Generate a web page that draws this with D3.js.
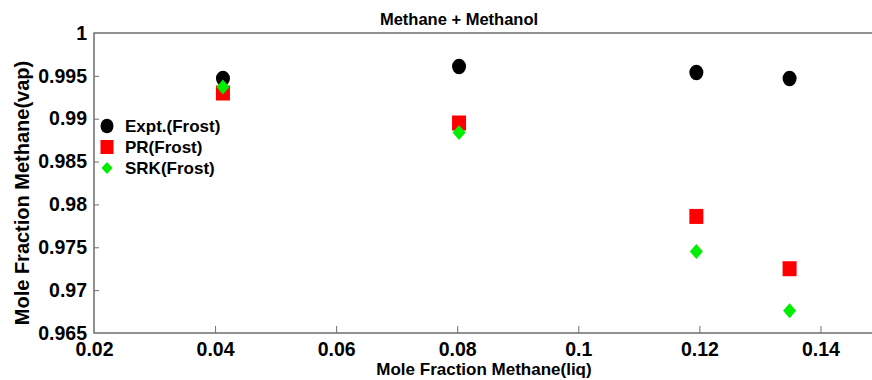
<!DOCTYPE html>
<html>
<head>
<meta charset="utf-8">
<script src="https://cdn.jsdelivr.net/npm/d3@7"></script>
<style>
  body { margin: 0; background: #fff; }
  text { font-family: "Liberation Sans", Arial, sans-serif; font-weight: bold; fill: #000; }
</style>
</head>
<body>
<div id="chart"></div>
<script>
// data
var xLiq = [0.0413, 0.0803, 0.1195, 0.1349];
var expt = [0.9947, 0.9961, 0.9954, 0.9947];
var pr = [0.9930, 0.9895, 0.9786, 0.9725];
var srk = [0.9937, 0.9884, 0.9745, 0.9676];
var xTicks = [0.02, 0.04, 0.06, 0.08, 0.1, 0.12, 0.14];
var yTicks = [0.965, 0.97, 0.975, 0.98, 0.985, 0.99, 0.995, 1];
var seriesNames = ["Expt.(Frost)", "PR(Frost)", "SRK(Frost)"];

var W = 872, H = 380;
var margin = { top: 33, left: 94, bottom: 47 };
var plotRight = 881; // box runs past the image edge

var svg = d3.select("#chart").append("svg")
  .attr("width", W)
  .attr("height", H);

var x = d3.scaleLinear().domain([0.02, 0.15]).range([margin.left, plotRight]);
var y = d3.scaleLinear().domain([0.965, 1]).range([H - margin.bottom, margin.top]);

var axisColor = "#6e6e6e";

// frame (left, top, bottom)
svg.append("path")
  .attr("d", "M" + plotRight + "," + y(1) + "H" + x(0.02) + "V" + y(0.965) + "H" + plotRight)
  .attr("fill", "none")
  .attr("stroke", axisColor)
  .attr("stroke-width", 1.5);

// x axis, ticks pointing inward
var gx = svg.append("g")
  .attr("transform", "translate(0," + y(0.965) + ")")
  .call(d3.axisBottom(x).tickValues(xTicks).tickSize(-7).tickPadding(12)
    .tickFormat(function (d) { return d3.format("")(+d.toFixed(2)); }));
gx.select(".domain").remove();
gx.selectAll(".tick line").attr("stroke", axisColor);
gx.selectAll(".tick text").style("font-size", "19.5px").attr("dy", "0.55em");
gx.selectAll(".tick").filter(function (d) { return d === 0.02; }).select("line").remove();

// y axis
var gy = svg.append("g")
  .attr("transform", "translate(" + x(0.02) + ",0)")
  .call(d3.axisLeft(y).tickValues(yTicks).tickSize(-5).tickPadding(7)
    .tickFormat(function (d) { return d3.format("")(+d.toFixed(3)); }));
gy.select(".domain").remove();
gy.selectAll(".tick line").attr("stroke", axisColor);
gy.selectAll(".tick text").style("font-size", "19.5px");
gy.selectAll(".tick").filter(function (d) { return d === 0.965 || d === 1; }).select("line").remove();

// title and axis labels
svg.append("text")
  .attr("x", 459)
  .attr("y", 25)
  .attr("text-anchor", "middle")
  .style("font-size", "16.5px")
  .text("Methane + Methanol");

svg.append("text")
  .attr("x", 484)
  .attr("y", 375)
  .attr("text-anchor", "middle")
  .style("font-size", "17px")
  .text("Mole Fraction Methane(liq)");

svg.append("text")
  .attr("transform", "translate(29," + 193 + ") rotate(-90)")
  .attr("text-anchor", "middle")
  .style("font-size", "20px")
  .text("Mole Fraction Methane(vap)");

// markers
var diamond = function (cx, cy, w, h) {
  return "M" + cx + "," + (cy - h / 2) + "L" + (cx + w / 2) + "," + cy +
    "L" + cx + "," + (cy + h / 2) + "L" + (cx - w / 2) + "," + cy + "Z";
};

svg.append("g").selectAll("ellipse")
  .data(xLiq)
  .enter()
  .append("ellipse")
  .attr("cx", function (d) { return x(d); })
  .attr("cy", function (d, i) { return y(expt[i]); })
  .attr("rx", 7)
  .attr("ry", 7.8)
  .attr("fill", "#000");

svg.append("g").selectAll("rect")
  .data(xLiq)
  .enter()
  .append("rect")
  .attr("x", function (d) { return x(d) - 7; })
  .attr("y", function (d, i) { return y(pr[i]) - 7.5; })
  .attr("width", 14)
  .attr("height", 15)
  .attr("fill", "#ff0000");

svg.append("g").selectAll("path")
  .data(xLiq)
  .enter()
  .append("path")
  .attr("d", function (d, i) { return diamond(x(d), y(srk[i]), 13, 15); })
  .attr("fill", "#00ee00");

// legend
var legend = svg.append("g").attr("transform", "translate(107,126)");
legend.append("ellipse").attr("cx", 0).attr("cy", 0).attr("rx", 6.5).attr("ry", 7.3).attr("fill", "#000");
legend.append("rect").attr("x", -6.5).attr("y", 21 - 7).attr("width", 13).attr("height", 14).attr("fill", "#ff0000");
legend.append("path").attr("d", diamond(0, 42, 11, 12)).attr("fill", "#00ee00");
legend.selectAll("text")
  .data(seriesNames)
  .enter()
  .append("text")
  .attr("x", 18)
  .attr("y", function (d, i) { return i * 21; })
  .attr("dy", "0.36em")
  .style("font-size", "17px")
  .text(function (d) { return d; });
</script>
</body>
</html>
